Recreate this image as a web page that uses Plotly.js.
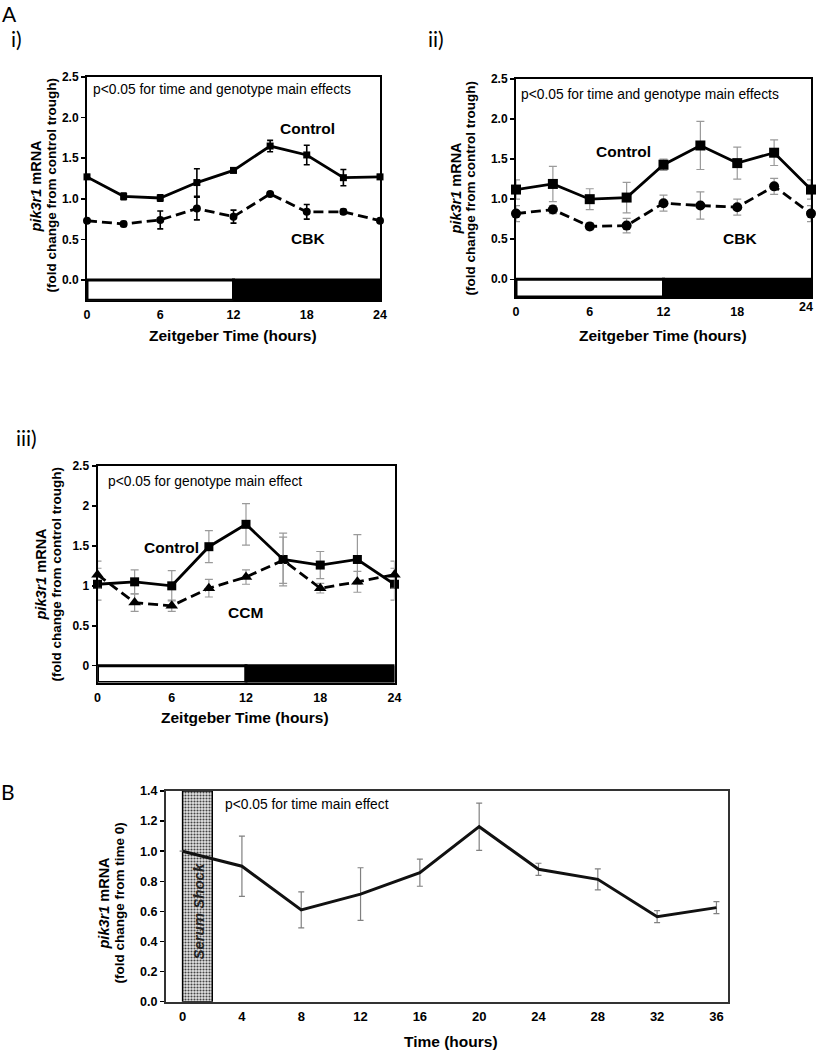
<!DOCTYPE html>
<html>
<head>
<meta charset="utf-8">
<script src="https://cdn.plot.ly/plotly-3.0.1.min.js"></script>
<style>
  body { margin: 0; background: #fff; }
  #chart { width: 816px; height: 1050px; }
</style>
</head>
<body>
<div id="chart"></div>
<script>
// ---- data ----
const zt = [0, 3, 6, 9, 12, 15, 18, 21, 24];
const ztTicks = [0, 6, 12, 18, 24];
const lightPhase = [0, 12];
const darkPhase = [12, 24];

// A i) Control vs CBK
const ctrlI = [1.27, 1.03, 1.01, 1.2, 1.35, 1.65, 1.54, 1.26, 1.27];
const ctrlIErr = [0.03, 0.04, 0.04, 0.17, 0.03, 0.07, 0.12, 0.1, 0.03];
const cbkI = [0.73, 0.69, 0.74, 0.88, 0.78, 1.06, 0.84, 0.84, 0.73];
const cbkIErr = [0.02, 0.03, 0.11, 0.14, 0.08, 0.02, 0.09, 0.03, 0.02];

// A ii) Control vs CBK
const ctrlII = [1.12, 1.19, 1.0, 1.02, 1.43, 1.67, 1.45, 1.58, 1.12];
const ctrlIIErr = [0.12, 0.22, 0.13, 0.19, 0.07, 0.3, 0.2, 0.16, 0.12];
const cbkII = [0.82, 0.87, 0.66, 0.67, 0.95, 0.92, 0.9, 1.16, 0.82];
const cbkIIErr = [0.1, 0.05, 0.04, 0.09, 0.1, 0.17, 0.1, 0.1, 0.1];

// A iii) Control vs CCM
const ctrlIII = [1.02, 1.05, 1.0, 1.49, 1.77, 1.33, 1.26, 1.33, 1.02];
const ctrlIIIErr = [0.2, 0.15, 0.19, 0.2, 0.26, 0.33, 0.17, 0.31, 0.2];
const ccmIII = [1.14, 0.79, 0.75, 0.97, 1.11, 1.32, 0.97, 1.05, 1.14];
const ccmIIIErr = [0.17, 0.11, 0.07, 0.11, 0.09, 0.29, 0.06, 0.13, 0.17];

// B) serum shock time course
const hours = [0, 4, 8, 12, 16, 20, 24, 28, 32, 36];
const serumB = [1.0, 0.9, 0.61, 0.715, 0.857, 1.163, 0.88, 0.813, 0.565, 0.625];
const serumBErr = [0, 0.2, 0.12, 0.175, 0.09, 0.157, 0.04, 0.07, 0.04, 0.04];
const serumShock = [0, 2];

// ---- helpers ----
const W = 816, H = 1050;
const FONT = "Liberation Sans, Arial, sans-serif";
const LABEL_FONT = "Lato, Open Sans, sans-serif";
const px = (x) => x / W;
const py = (y) => 1 - y / H;

function line(x, y, err, xa, ya, opts) {
  return {
    x: x, y: y, xaxis: xa, yaxis: ya,
    type: "scatter",
    mode: opts.symbol ? "lines+markers" : "lines",
    cliponaxis: false,
    line: { color: opts.color || "#000", width: opts.width || 2.8, dash: opts.dash || "solid" },
    marker: { symbol: opts.symbol || "circle", size: opts.size || 7, color: opts.color || "#000" },
    error_y: {
      type: "data", array: err, visible: true,
      color: opts.errColor, thickness: opts.errThick || 1.2, width: opts.errWidth || 3,
    },
    hoverinfo: "x+y",
  };
}

function text(t, x, y, size, extra) {
  return Object.assign(
    {
      text: t, xref: "paper", yref: "paper", x: px(x), y: py(y),
      showarrow: false, xanchor: "center", yanchor: "middle",
      font: { family: FONT, size: size, color: "#000" },
    },
    extra || {}
  );
}

function bold(t, x, y, size, extra) {
  const a = text(t, x, y, size, extra);
  a.font.weight = "bold";
  return a;
}

function panelLabel(t, x, y) {
  return text(t, x, y, 21, { font: { family: LABEL_FONT, size: 21, color: "#000" } });
}

// y titles are two separate lines so the spacing can match
function yTitle(x, y, line2) {
  return [
    bold("<i>pik3r1</i> mRNA", x - 7.5, y, 14.5, { textangle: -90 }),
    bold(line2, x + 7.5, y, 13.5, { textangle: -90 }),
  ];
}

function xAxis(left, right, range, tickvals, anchor, size) {
  return {
    domain: [px(left), px(right)], range: range, anchor: anchor,
    tickvals: tickvals, ticks: "", ticklabelstandoff: 2,
    showline: true, mirror: true, linecolor: "#000", linewidth: 2,
    showgrid: false, zeroline: false,
    tickfont: { family: FONT, size: size || 12.5, weight: "bold", color: "#000" },
  };
}

function yAxis(top, bottom, range, tickvals, fmt, anchor, color) {
  return {
    domain: [py(bottom), py(top)], range: range, anchor: anchor,
    tickvals: tickvals, tickformat: fmt,
    ticks: "outside", ticklen: 4, tickwidth: 1.5, tickcolor: "#000",
    showline: true, mirror: true, linecolor: color || "#000", linewidth: 2,
    showgrid: false, zeroline: false,
    tickfont: { family: FONT, size: 12, weight: "bold", color: "#000" },
  };
}

function dayNight(xr, yr, bottom) {
  return [
    { type: "rect", xref: xr, yref: yr, x0: lightPhase[0], x1: lightPhase[1], y0: bottom, y1: 0,
      fillcolor: "#fff", line: { color: "#000", width: 3 } },
    { type: "rect", xref: xr, yref: yr, x0: darkPhase[0], x1: darkPhase[1], y0: bottom, y1: 0,
      fillcolor: "#000", line: { color: "#000", width: 3 } },
  ];
}

const gray = "#9a9a9a";
const dashed = "10px,5px";

const traces = [
  // A i
  line(zt, ctrlI, ctrlIErr, "x", "y", { symbol: "square", size: 7, errColor: "#000", errThick: 1.6 }),
  line(zt, cbkI, cbkIErr, "x", "y", { symbol: "circle", size: 8, dash: dashed, errColor: "#000", errThick: 1.6 }),
  // A ii
  line(zt, ctrlII, ctrlIIErr, "x2", "y2", { symbol: "square", size: 10, errColor: gray, errWidth: 4 }),
  line(zt, cbkII, cbkIIErr, "x2", "y2", { symbol: "circle", size: 10, dash: dashed, errColor: gray, errWidth: 4 }),
  // A iii
  line(zt, ctrlIII, ctrlIIIErr, "x3", "y3", { symbol: "square", size: 9, errColor: gray, errWidth: 4 }),
  line(zt, ccmIII, ccmIIIErr, "x3", "y3", { symbol: "triangle-up", size: 11, dash: dashed, errColor: gray, errWidth: 4 }),
  // B serum shock band
  {
    x: [(serumShock[0] + serumShock[1]) / 2], y: [1.4], width: [serumShock[1] - serumShock[0]],
    base: 0, type: "bar", xaxis: "x4", yaxis: "y4", hoverinfo: "skip",
    marker: {
      color: "#e4e4e4",
      pattern: { shape: ".", fgcolor: "#444", bgcolor: "#e4e4e4", size: 3, solidity: 0.4 },
      line: { color: "#000", width: 1.5 },
    },
  },
  line(hours, serumB, serumBErr, "x4", "y4", { width: 3, color: "#111", errColor: "#808080", errWidth: 3 }),
];

const annotations = [
  panelLabel("A", 9, 13),
  panelLabel("i)", 16, 38),
  panelLabel("ii)", 436, 38),
  panelLabel("iii)", 26, 437),
  panelLabel("B", 8, 791),

  text("p<0.05 for time and genotype main effects", 91, 89, 13.8, { xanchor: "left" }),
  text("p<0.05 for time and genotype main effects", 519, 94, 13.8, { xanchor: "left" }),
  text("p<0.05 for genotype main effect", 106, 481, 13.8, { xanchor: "left" }),
  text("p<0.05 for time main effect", 223, 804, 13.8, { xanchor: "left" }),

  bold("Control", 307, 128, 15.5),
  bold("CBK", 308, 238, 15.5),
  bold("Control", 623, 151, 15.5),
  bold("CBK", 740, 238, 15.5),
  bold("Control", 171, 547, 15.5),
  bold("CCM", 245, 612, 15.5),

  bold("Zeitgeber Time (hours)", 233, 335, 15.5),
  bold("Zeitgeber Time (hours)", 663, 335, 15.5),
  bold("Zeitgeber Time (hours)", 245, 717, 15.5),
  bold("Time (hours)", 451, 1041, 15.5),

  // last tick label of panel ii sits against the right page edge, slightly raised
  bold(String(ztTicks[ztTicks.length - 1]), 815, 307, 12.5, { xanchor: "right" }),

  ...yTitle(43, 186, "(fold change from control trough)"),
  ...yTitle(463, 188, "(fold change from control trough)"),
  ...yTitle(48, 574, "(fold change from control trough)"),
  ...yTitle(111, 903, "(fold change from time 0)"),

  {
    text: "Serum Shock", xref: "x4", yref: "y4", x: 1.05, y: 0.6, textangle: -90,
    showarrow: false, font: { family: FONT, size: 15, weight: "bold", style: "italic", color: "#222" },
  },
];

const layout = {
  width: W, height: H,
  margin: { l: 0, r: 0, t: 0, b: 0 },
  paper_bgcolor: "#fff", plot_bgcolor: "rgba(0,0,0,0)",
  showlegend: false,
  font: { family: FONT, color: "#000" },
  xaxis: xAxis(87, 380, [0, 24], ztTicks, "y"),
  yaxis: yAxis(77, 300.3, [-0.25, 2.5], [0, 0.5, 1, 1.5, 2, 2.5], ".1f", "x"),
  xaxis2: xAxis(516, 811, [0, 24], ztTicks.slice(0, -1), "y2"),
  yaxis2: yAxis(79, 296.9, [-0.22, 2.5], [0, 0.5, 1, 1.5, 2, 2.5], ".1f", "x2"),
  xaxis3: xAxis(97.5, 394.5, [0, 24], ztTicks, "y3"),
  yaxis3: yAxis(466, 682.5, [-0.21, 2.5], [0, 0.5, 1, 1.5, 2, 2.5], "", "x3"),
  xaxis4: xAxis(166, 728.3, [-1.12, 36.8], hours, "y4", 13),
  yaxis4: yAxis(791, 1001.7, [0, 1.4], [0, 0.2, 0.4, 0.6, 0.8, 1.0, 1.2, 1.4], ".1f", "x4", "#333"),
  shapes: [
    ...dayNight("x", "y", -0.25),
    ...dayNight("x2", "y2", -0.22),
    ...dayNight("x3", "y3", -0.21),
  ],
  annotations: annotations,
};
layout.xaxis4.linecolor = "#333";
layout.yaxis4.tickfont.size = 12.5;

Plotly.newPlot("chart", traces, layout, { staticPlot: true });
</script>
</body>
</html>
